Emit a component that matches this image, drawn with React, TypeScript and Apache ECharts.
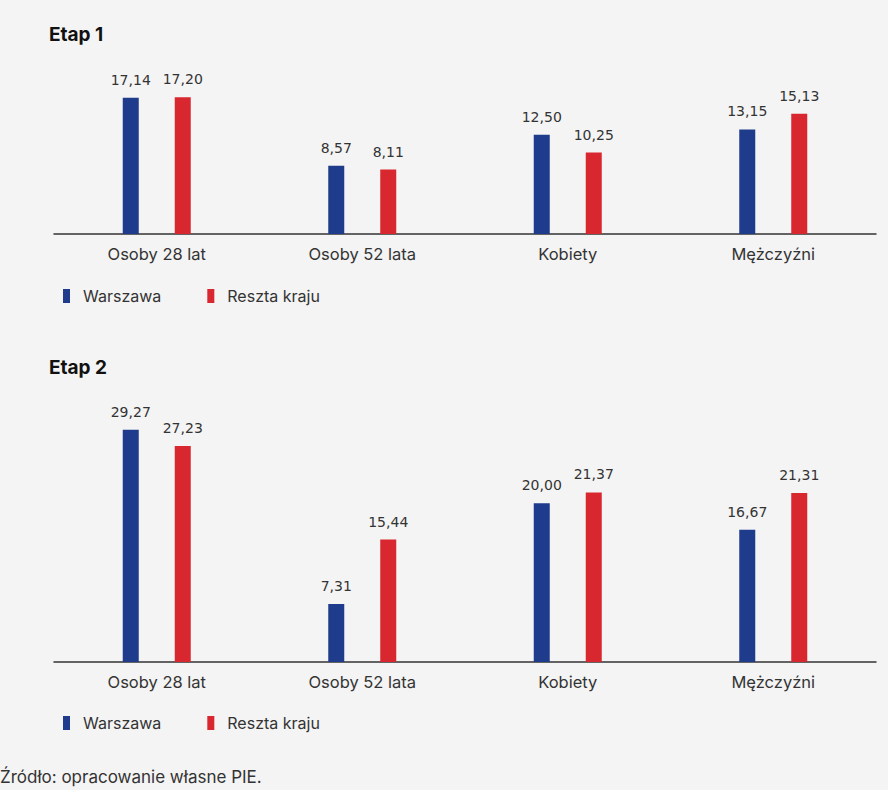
import React, { useEffect, useRef } from "react";
import * as echarts from "echarts";

const categories = ["Osoby 28 lat", "Osoby 52 lata", "Kobiety", "Mężczyźni"];
const etap1Warszawa = [17.14, 8.57, 12.5, 13.15];
const etap1Reszta = [17.2, 8.11, 10.25, 15.13];
const etap2Warszawa = [29.27, 7.31, 20.0, 16.67];
const etap2Reszta = [27.23, 15.44, 21.37, 21.31];
const seriesNames = ["Warszawa", "Reszta kraju"];
const titles = ["Etap 1", "Etap 2"];
const footer = "Źródło: opracowanie własne PIE.";

const BLUE = "#1f3b8c";
const RED = "#d8272f";
const TEXT = "#333333";
const FONT = "Inter, 'Noto Sans', sans-serif";
const NUMFONT = "'DejaVu Sans', sans-serif";

export default function App() {
  const ref = useRef<HTMLDivElement>(null);
  useEffect(() => {
    if (!ref.current) return;
    const chart = echarts.init(ref.current, null, { renderer: "svg" });
    const fmt = (p: any) => Number(p.value).toFixed(2).replace(".", ",");
    const label = {
      show: true,
      position: "top",
      distance: 11,
      formatter: fmt,
      color: TEXT,
      fontSize: 14,
      fontFamily: NUMFONT,
    };
    const mkSeries = (name: string, data: number[], color: string, idx: number) => ({
      type: "bar",
      name,
      data,
      xAxisIndex: idx,
      yAxisIndex: idx,
      barWidth: 16,
      barGap: "225%",
      itemStyle: { color },
      label,
    });
    const xAxis = (idx: number) => ({
      type: "category",
      gridIndex: idx,
      data: categories,
      axisTick: { show: false },
      axisLine: { lineStyle: { color: TEXT, width: 1.5 } },
      axisLabel: { color: TEXT, fontSize: 16.5, fontFamily: FONT, margin: 11 },
    });
    const legend = (top: number) => ({
      data: seriesNames,
      left: 58,
      top,
      icon: "rect",
      itemWidth: 7,
      itemHeight: 14,
      itemGap: 46,
      textStyle: { color: TEXT, fontSize: 16, fontFamily: FONT, padding: [0, 0, 0, 8] },
      selectedMode: false,
    });
    const titleStyle = { fontSize: 19, fontWeight: "bold", color: "#111", fontFamily: FONT };
    chart.setOption({
      animation: false,
      backgroundColor: "#f4f4f4",
      title: [
        { text: titles[0], left: 44, top: 20, textStyle: titleStyle },
        { text: titles[1], left: 44, top: 353, textStyle: titleStyle },
      ],
      legend: [legend(283), legend(710)],
      grid: [
        { left: 54, right: 12, top: 75, height: 159 },
        { left: 54, right: 12, top: 424, height: 238 },
      ],
      xAxis: [xAxis(0), xAxis(1)],
      yAxis: [
        { type: "value", gridIndex: 0, min: 0, max: 20, show: false },
        { type: "value", gridIndex: 1, min: 0, max: 30, show: false },
      ],
      series: [
        mkSeries(seriesNames[0], etap1Warszawa, BLUE, 0),
        mkSeries(seriesNames[1], etap1Reszta, RED, 0),
        mkSeries(seriesNames[0], etap2Warszawa, BLUE, 1),
        mkSeries(seriesNames[1], etap2Reszta, RED, 1),
      ],
      graphic: [
        {
          type: "text",
          left: 0,
          top: 768,
          style: { text: footer, fill: TEXT, fontSize: 17, fontFamily: FONT },
        },
      ],
    });
    return () => chart.dispose();
  }, []);
  return (
    <div
      ref={ref}
      style={{ position: "fixed", left: 0, top: 0, width: 888, height: 790 }}
    />
  );
}
